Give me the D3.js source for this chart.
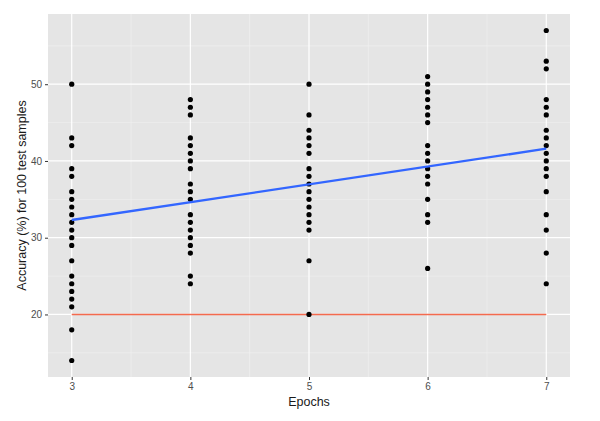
<!DOCTYPE html>
<html lang="en">
  <head>
    <meta charset="utf-8" />
    <title>Accuracy by epochs</title>
    <style>
      body { margin: 0; background: #fff; }
      text { font-family: "Liberation Sans", Arial, sans-serif; }
    </style>
  </head>
  <body>
    <svg id="viz"></svg>
    <script src="https://d3js.org/d3.v7.min.js"></script>
    <script>
        var width = 600;
        var height = 421;

        // accuracy values, one array per epoch
        var epochs = [3, 4, 5, 6, 7];
        var acc3 = [50, 43, 42, 39, 38, 36, 35, 34, 33, 32, 31, 30, 29, 27, 25, 24, 23, 22, 21, 18, 14];
        var acc4 = [48, 47, 46, 43, 42, 41, 40, 39, 37, 36, 35, 33, 32, 31, 30, 29, 28, 25, 24];
        var acc5 = [50, 46, 44, 43, 42, 41, 39, 38, 37, 36, 35, 34, 33, 32, 31, 27, 20];
        var acc6 = [51, 50, 49, 48, 47, 46, 45, 42, 41, 40, 39, 38, 37, 35, 33, 32, 26];
        var acc7 = [57, 53, 52, 48, 47, 46, 44, 43, 42, 41, 40, 39, 38, 36, 33, 31, 28, 24];
        var accByEpoch = [acc3, acc4, acc5, acc6, acc7];

        // fitted line (lm) ends and the chance level line
        var fitEpochs = [3, 7];
        var fitAccuracy = [32.3, 41.6];
        var chanceEpochs = [3, 7];
        var chanceAccuracy = [20, 20];

        var yTicks = [20, 30, 40, 50];
        var yMinor = [15, 25, 35, 45, 55];
        var xMinor = [3.5, 4.5, 5.5, 6.5];

        var points = [];
        epochs.forEach(function(e, i) {
            accByEpoch[i].forEach(function(a) { points.push({epoch: e, acc: a}); });
        });

        var margin = {top: 14, right: 30, bottom: 44, left: 48};
        var pw = width - margin.left - margin.right;
        var ph = height - margin.top - margin.bottom;

        var allAcc = points.map(function(d) { return d.acc; });
        var yMin = d3.min(allAcc), yMax = d3.max(allAcc);
        var yPad = (yMax - yMin) * 0.05;
        var xPad = (d3.max(epochs) - d3.min(epochs)) * 0.05;

        var x = d3.scaleLinear()
            .domain([d3.min(epochs) - xPad, d3.max(epochs) + xPad])
            .range([0, pw]);
        var y = d3.scaleLinear()
            .domain([yMin - yPad, yMax + yPad])
            .range([ph, 0]);

        var svg = d3.select("#viz")
            .attr("width", width)
            .attr("height", height);

        var g = svg.append("g")
            .attr("transform", "translate(" + margin.left + "," + margin.top + ")");

        g.append("rect")
            .attr("width", pw)
            .attr("height", ph)
            .attr("fill", "#e5e5e5");

        // minor grid
        g.selectAll(".ygminor").data(yMinor).enter().append("line")
            .attr("x1", 0).attr("x2", pw)
            .attr("y1", function(d) { return y(d); }).attr("y2", function(d) { return y(d); })
            .attr("stroke", "#f2f2f2").attr("stroke-width", 0.6);
        g.selectAll(".xgminor").data(xMinor).enter().append("line")
            .attr("y1", 0).attr("y2", ph)
            .attr("x1", function(d) { return x(d); }).attr("x2", function(d) { return x(d); })
            .attr("stroke", "#f2f2f2").attr("stroke-width", 0.6);

        // major grid
        g.selectAll(".ygmajor").data(yTicks).enter().append("line")
            .attr("x1", 0).attr("x2", pw)
            .attr("y1", function(d) { return y(d); }).attr("y2", function(d) { return y(d); })
            .attr("stroke", "#ffffff").attr("stroke-width", 1.2);
        g.selectAll(".xgmajor").data(epochs).enter().append("line")
            .attr("y1", 0).attr("y2", ph)
            .attr("x1", function(d) { return x(d); }).attr("x2", function(d) { return x(d); })
            .attr("stroke", "#ffffff").attr("stroke-width", 1.2);

        // axes
        var xAxis = g.append("g")
            .attr("transform", "translate(0," + ph + ")")
            .call(d3.axisBottom(x).tickValues(epochs).tickFormat(d3.format("d")).tickSize(3).tickPadding(3));
        var yAxis = g.append("g")
            .call(d3.axisLeft(y).tickValues(yTicks).tickSize(3).tickPadding(3));
        [xAxis, yAxis].forEach(function(a) {
            a.select(".domain").remove();
            a.selectAll(".tick line").attr("stroke", "#333333");
            a.selectAll(".tick text").attr("fill", "#4d4d4d").style("font-size", "10px");
        });

        var line = d3.line()
            .x(function(d) { return x(d[0]); })
            .y(function(d) { return y(d[1]); });

        // chance line
        g.append("path")
            .datum(d3.zip(chanceEpochs, chanceAccuracy))
            .attr("d", line)
            .attr("fill", "none")
            .attr("stroke", "#f46a4e")
            .attr("stroke-width", 1.5);

        // points
        g.append("g").selectAll("circle")
            .data(points)
            .enter()
            .append("circle")
            .attr("cx", function(d) { return x(d.epoch); })
            .attr("cy", function(d) { return y(d.acc); })
            .attr("r", 2.6)
            .attr("fill", "#000000");

        // fitted line
        g.append("path")
            .datum(d3.zip(fitEpochs, fitAccuracy))
            .attr("d", line)
            .attr("fill", "none")
            .attr("stroke", "#3366ff")
            .attr("stroke-width", 2.4);

        // titles
        svg.append("text")
            .attr("x", margin.left + pw / 2)
            .attr("y", height - 15)
            .attr("text-anchor", "middle")
            .attr("fill", "#1a1a1a")
            .style("font-size", "12.5px")
            .text("Epochs");

        svg.append("text")
            .attr("transform", "translate(26," + (margin.top + ph / 2) + ") rotate(-90)")
            .attr("text-anchor", "middle")
            .attr("fill", "#1a1a1a")
            .style("font-size", "12.5px")
            .text("Accuracy (%) for 100 test samples");
    </script>
  </body>
</html>
